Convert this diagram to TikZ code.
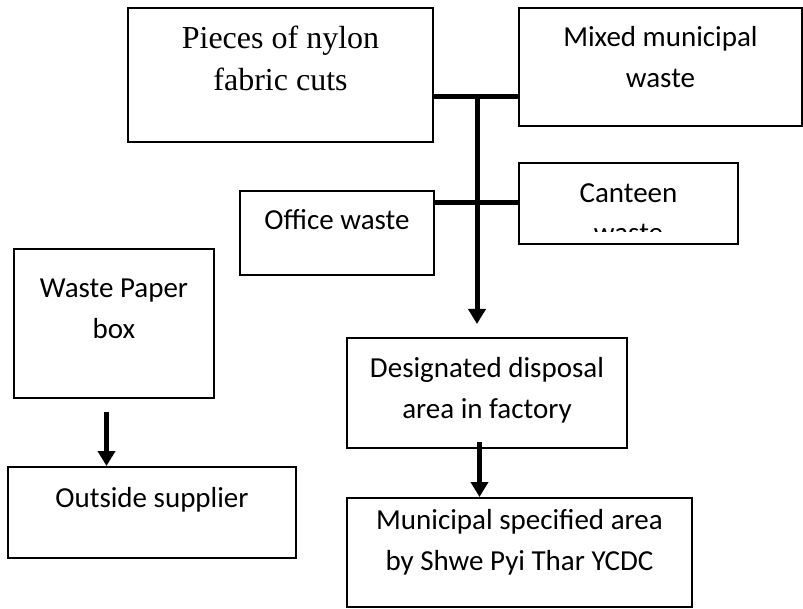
\documentclass[tikz,border=0pt]{standalone}
\usepackage{fontspec}
\setmainfont{Carlito}
\newfontfamily\timesfont{Liberation Serif}
\usetikzlibrary{arrows.meta}

\tikzset{
  box/.style={draw, line width=1pt, rectangle, inner sep=0pt},
  txt/.style={anchor=base, align=center, inner sep=0pt, font=\fontsize{14.5}{20.5}\selectfont},
  bar/.style={line width=2.5pt},
  flow/.style={line width=2.5pt, -{Triangle[width=8.5pt,length=7.5pt]}}
}

\begin{document}
\begin{tikzpicture}[x=0.5pt,y=-0.5pt]
    \useasboundingbox (0,0) rectangle (803,609);

    % Riquadri
    \node[box, minimum width=152.5pt, minimum height=67pt] (nylon) at (280.5,75) {};
    \node[box, minimum width=141.5pt, minimum height=59pt] (mixed) at (660.5,67) {};
    \node[box, minimum width=109.5pt, minimum height=40.5pt] (canteen) at (628.5,203.5) {};
    \node[box, minimum width=97pt, minimum height=42pt] (office) at (337,233) {};
    \node[box, minimum width=100pt, minimum height=74.5pt] (paper) at (114,323.5) {};
    \node[box, minimum width=144pt, minimum height=45.5pt] (outside) at (152,512.5) {};
    \node[box, minimum width=140pt, minimum height=55pt] (disposal) at (487,393) {};
    \node[box, minimum width=172.5pt, minimum height=54.5pt] (munic) at (519.5,552.5) {};

    % Testi (base = ultima riga)
    \node[txt, font=\timesfont\fontsize{16}{21}\selectfont] (tnylon) at (280.5,91) {Pieces of nylon\\fabric cuts};
    \node[txt] (tmixed) at (660.5,88) {Mixed municipal\\waste};
    \node[txt] (toffice) at (337,230) {Office waste};
    \node[txt] (tpaper) at (114,338) {Waste Paper\\box};
    \node[txt] (toutside) at (152,507) {Outside supplier};
    \node[txt] (tdisposal) at (487,418) {Designated disposal\\area in factory};
    \node[txt] (tmunic) at (519.5,570) {Municipal specified area\\by Shwe Pyi Thar YCDC};
    \begin{scope}
        \clip (519,163) rectangle (738,232);
        \node[txt] (tcanteen) at (628.5,243) {Canteen\\waste};
    \end{scope}

    % Collegamenti
    \coordinate (j1) at (477,97);
    \coordinate (j2) at (477,203);
    \draw[bar] (nylon.east |- j1) -- (mixed.west |- j1);
    \draw[bar] (office.east |- j2) -- (canteen.west |- j2);
    \draw[flow, shorten >=6.5pt] (j1) -- (j1 |- disposal.north);

    % Frecce
    \path (paper.south) ++(-7.5,13) coordinate (p0);
    \draw[flow] (p0) -- (p0 |- outside.north);
    \path (disposal.south) ++(-7.5,-7) coordinate (d0);
    \draw[flow] (d0) -- (d0 |- munic.north);

\end{tikzpicture}
\end{document}
